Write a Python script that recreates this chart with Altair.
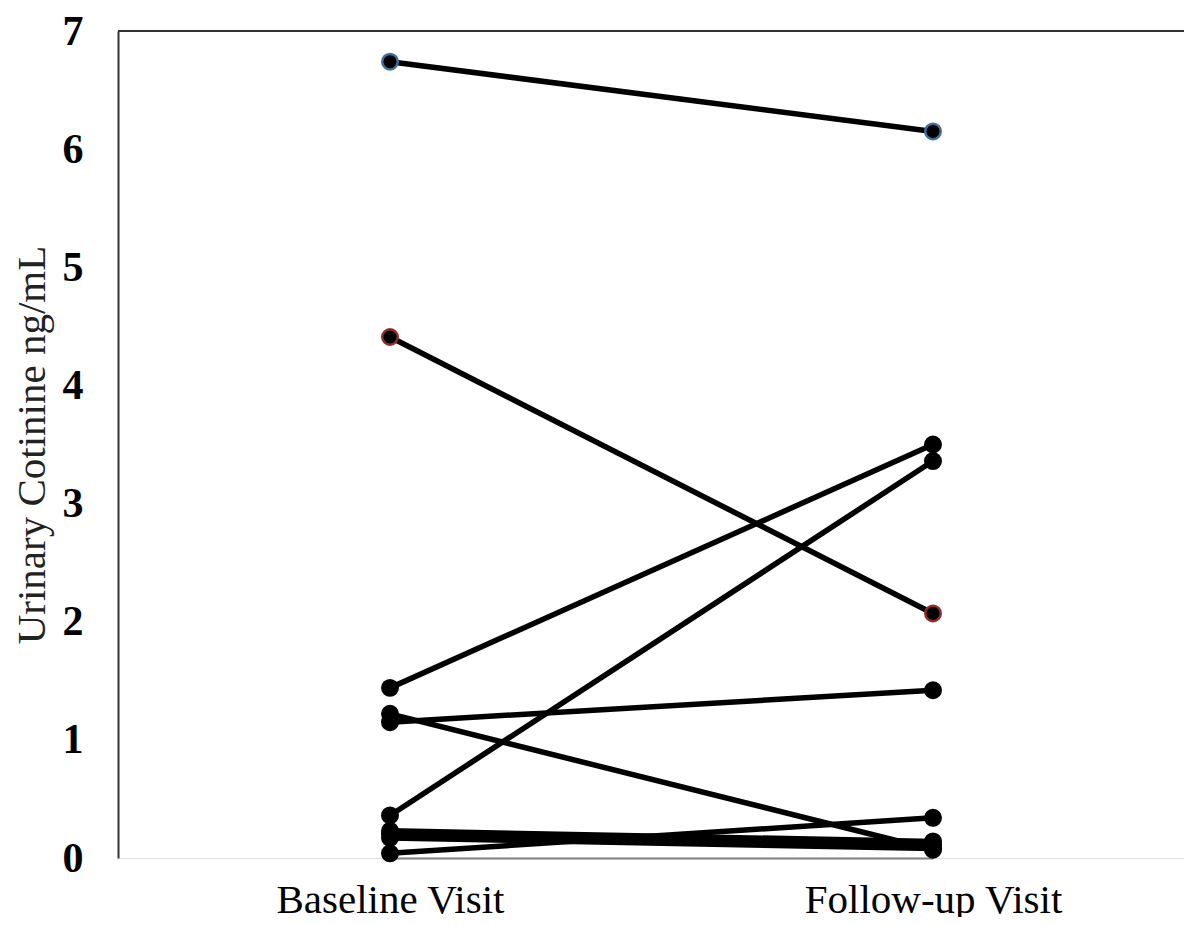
import altair as alt
import pandas as pd

visits = ["Baseline Visit", "Follow-up Visit"]
subjects = ["S1", "S2", "S3", "S4", "S5", "S6", "S7", "S8", "S9", "S10"]
baseline = [6.74, 4.41, 1.44, 0.36, 1.15, 1.22, 0.04, 0.23, 0.20, 0.17]
followup = [6.15, 2.07, 3.50, 3.36, 1.42, 0.07, 0.34, 0.14, 0.11, 0.08]
outline = ["#3f6e9c", "#8e2f2f", "#000000", "#000000", "#000000",
           "#000000", "#000000", "#000000", "#000000", "#000000"]

rows = []
for s, b, f, o in zip(subjects, baseline, followup, outline):
    rows.append({"subject": s, "visit": visits[0], "order": 0, "value": b, "outline": o})
    rows.append({"subject": s, "visit": visits[1], "order": 1, "value": f, "outline": o})
df = pd.DataFrame(rows)

W = 1066
H = 827
SERIF = "Liberation Serif"

x = alt.X("visit:N", sort=visits, title=None,
          scale=alt.Scale(type="point", domain=visits, range=[272, 815], padding=0),
          axis=alt.Axis(labelAngle=0, labelFont=SERIF, labelFontSize=41, labelLimit=0,
                        labelColor="black", labelPadding=22, ticks=False,
                        domainColor="#7f7f7f", domainWidth=2))
y = alt.Y("value:Q", title="Urinary Cotinine ng/mL",
          scale=alt.Scale(domain=[0, 7], nice=False, zero=True),
          axis=alt.Axis(values=[0, 1, 2, 3, 4, 5, 6, 7], format="d", grid=False,
                        ticks=False, labelFont=SERIF, labelFontSize=42,
                        labelFontWeight="bold", labelColor="black", labelPadding=35,
                        domainColor="#333333", domainWidth=2,
                        titleFont=SERIF, titleFontSize=41, titleFontWeight="normal",
                        titleColor="#222222", titleX=-86, titleY=H / 2,
                        titleAlign="center", titleBaseline="middle", titleAngle=270))

base = alt.Chart(df)

lines = base.mark_line(color="black", strokeWidth=5.5).encode(
    x=x, y=y, detail="subject:N", order="order:Q")

points = base.mark_circle(size=240, opacity=1, fill="black", strokeWidth=2.5).encode(
    x=x, y=y, stroke=alt.Stroke("outline:N", scale=None))

top_rule = alt.Chart(pd.DataFrame({"a": [0]})).mark_rule(color="#333333", strokeWidth=2).encode(
    x=alt.value(0), x2=alt.value(W), y=alt.value(0))

chart = alt.layer(lines, points, top_rule).properties(
    width=W, height=H,
    autosize=alt.AutoSizeParams(type="none"),
    padding={"left": 110, "top": 23, "right": 0, "bottom": 59},
).configure_view(stroke=None).configure(background="white")

chart.save("out.html", embed_options={"renderer": "svg", "actions": False})
